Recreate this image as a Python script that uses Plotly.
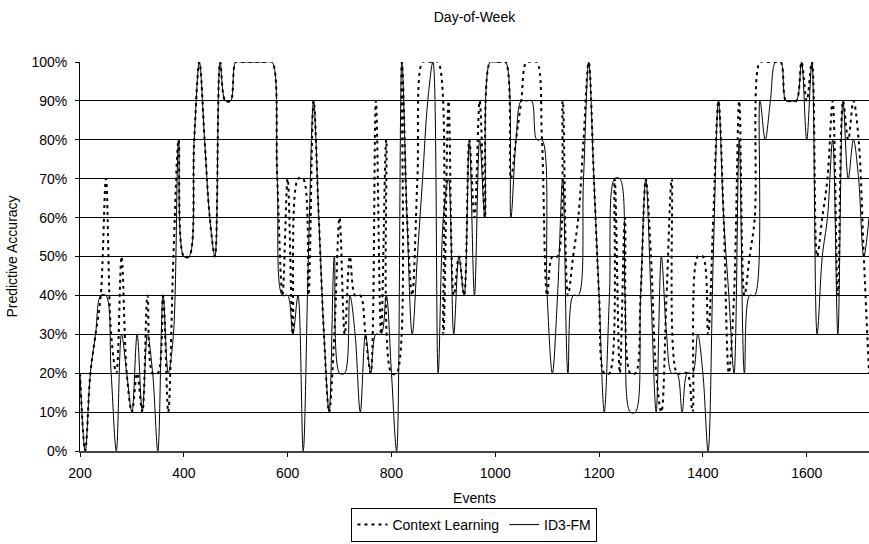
import plotly.graph_objects as go

events = list(range(200, 1721, 10))

id3_fm = [
    20, 0, 20, 30, 40, 40, 20, 0, 30, 20,          # 200-290
    10, 30, 10, 30, 20, 0, 40, 20, 30, 80,         # 300-390
    50, 50, 80, 100, 80, 60, 50, 100, 90, 90,      # 400-490
    100, 100, 100, 100, 100, 100, 100, 100, 70, 40,  # 500-590
    40, 30, 40, 0, 50, 90, 60, 30, 10, 50,         # 600-690
    20, 20, 40, 30, 10, 30, 20, 30, 30, 40,        # 700-790
    20, 0, 100, 60, 30, 50, 70, 90, 100, 20,       # 800-890
    60, 70, 30, 50, 40, 80, 40, 80, 60, 100,       # 900-990
    100, 100, 100, 60, 80, 90, 90, 90, 80, 80,     # 1000-1090
    40, 20, 40, 70, 20, 40, 40, 70, 100, 70,       # 1100-1190
    40, 10, 40, 70, 70, 40, 10, 10, 40, 70,        # 1200-1290
    40, 10, 50, 30, 20, 20, 10, 20, 20, 30,        # 1300-1390
    20, 0, 50, 90, 60, 40, 20, 80, 20, 40,         # 1400-1490
    40, 90, 80, 90, 100, 100, 90, 90, 90, 100,     # 1500-1590
    80, 100, 30, 50, 60, 80, 30, 90, 70, 80,       # 1600-1690
    70, 50, 60,                                    # 1700-1720
]

context_learning = [
    20, 0, 20, 30, 40, 70, 30, 20, 50, 20,         # 200-290
    10, 20, 10, 40, 20, 20, 40, 10, 50, 80,        # 300-390
    50, 50, 80, 100, 80, 60, 50, 100, 90, 90,      # 400-490
    100, 100, 100, 100, 100, 100, 100, 100, 70, 40,  # 500-590
    70, 30, 70, 70, 40, 90, 60, 30, 10, 30,        # 600-690
    60, 30, 50, 40, 40, 30, 20, 90, 30, 80,        # 700-790
    20, 20, 100, 60, 40, 70, 100, 100, 100, 100,   # 800-890
    30, 90, 40, 50, 40, 80, 60, 90, 60, 100,       # 900-990
    100, 100, 100, 70, 80, 90, 100, 100, 100, 80,  # 1000-1090
    40, 50, 50, 90, 40, 50, 60, 80, 100, 70,       # 1100-1190
    40, 20, 20, 70, 20, 60, 20, 20, 40, 70,        # 1200-1290
    50, 20, 10, 40, 70, 20, 20, 20, 10, 50,        # 1300-1390
    50, 30, 60, 90, 60, 20, 40, 90, 40, 50,        # 1400-1490
    60, 100, 100, 100, 100, 100, 90, 90, 90, 100,  # 1500-1590
    90, 100, 50, 60, 70, 90, 40, 90, 80, 90,       # 1600-1690
    80, 50, 20,                                    # 1700-1720
]

y_ticks = list(range(0, 101, 10))
x_ticks = list(range(200, 1601, 200))

FONT = "Liberation Sans, Arial, sans-serif"
FS = 14

fig = go.Figure()
fig.add_trace(go.Scatter(
    x=events, y=context_learning, name="Context Learning", mode="lines",
    line=dict(color="black", width=2, dash="3px,4px", shape="spline", smoothing=1.0),
))
fig.add_trace(go.Scatter(
    x=events, y=id3_fm, name="ID3-FM", mode="lines",
    line=dict(color="black", width=1, shape="spline", smoothing=1.0),
))

fig.update_layout(
    width=869, height=544,
    margin=dict(l=80, r=0, t=62, b=93, autoexpand=False),
    paper_bgcolor="white", plot_bgcolor="white",
    font=dict(family=FONT, size=FS, color="black"),
    title=dict(text="Day-of-Week", x=0.546, xanchor="center", y=1 - 17 / 544,
               yanchor="middle", yref="container", font=dict(size=FS)),
    showlegend=True,
    legend=dict(orientation="h", x=0.546, xanchor="center", xref="container",
                y=(544 - 542) / 544, yanchor="bottom", yref="container",
                bordercolor="black", borderwidth=1, font=dict(size=FS),
                itemwidth=30, tracegroupgap=0),
)

fig.update_xaxes(
    range=[200, 1720], tickvals=x_ticks, ticktext=[str(v) for v in x_ticks],
    showgrid=False, zeroline=False, automargin=False,
    showline=True, linecolor="#444", linewidth=2,
    ticks="outside", ticklen=4, tickcolor="black", ticklabelstandoff=4,
    title=dict(text="Events", standoff=13, font=dict(size=FS)),
)
fig.update_yaxes(
    range=[0, 100], tickvals=y_ticks, ticktext=[f"{v}%" for v in y_ticks],
    showgrid=True, gridcolor="black", gridwidth=1, zeroline=False, automargin=False,
    showline=True, linecolor="black", linewidth=1,
    ticks="outside", ticklen=4, tickcolor="black", ticklabelstandoff=5,
    title=dict(text="Predictive Accuracy", standoff=10, font=dict(size=FS)),
)

fig.write_html(
    "out.html",
    config={"displayModeBar": False},
    post_script="document.body.style.margin='0';document.body.style.overflow='hidden';",
)
